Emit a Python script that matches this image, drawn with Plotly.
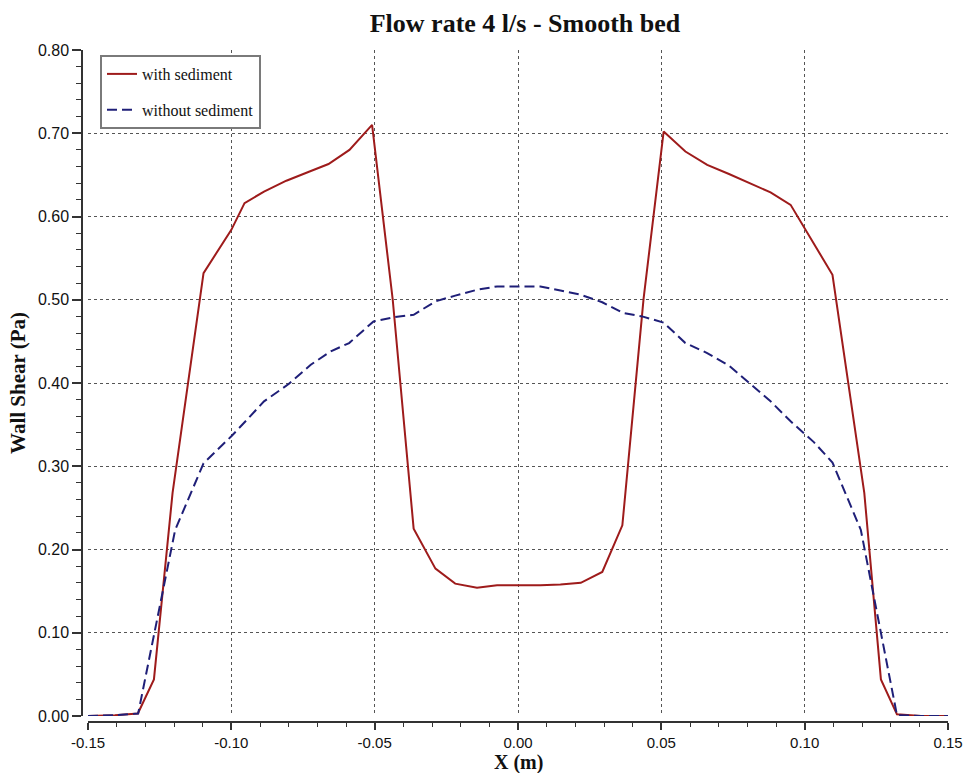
import plotly.graph_objects as go

# ---- data ----
x_with = [-0.150, -0.1406, -0.1326, -0.1270, -0.1205, -0.1097, -0.1000, -0.0954,
          -0.0886, -0.0808, -0.0727, -0.0661, -0.0588, -0.0509, -0.0437, -0.0364,
          -0.0288, -0.0219, -0.0143, -0.0073, 0.0, 0.0078, 0.0148, 0.0219, 0.0294,
          0.0364, 0.0438, 0.0508, 0.0584, 0.0660, 0.0736, 0.0811, 0.0881, 0.0951,
          0.1027, 0.1097, 0.1208, 0.1266, 0.1322, 0.1406, 0.150]
y_with = [0.0, 0.001, 0.003, 0.044, 0.268, 0.532, 0.584, 0.616,
          0.630, 0.643, 0.654, 0.663, 0.680, 0.710, 0.500, 0.225,
          0.177, 0.159, 0.154, 0.157, 0.157, 0.157, 0.158, 0.160, 0.173,
          0.229, 0.501, 0.702, 0.678, 0.662, 0.651, 0.640, 0.629, 0.614,
          0.570, 0.530, 0.268, 0.044, 0.002, 0.0, 0.0]

x_without = [-0.150, -0.1406, -0.1325, -0.1196, -0.1097, -0.1000, -0.0945, -0.0886,
             -0.0799, -0.0723, -0.0653, -0.0589, -0.0504, -0.0434, -0.0364, -0.0288,
             -0.0219, -0.0143, -0.0073, 0.0, 0.0078, 0.0148, 0.0219, 0.0294, 0.0367,
             0.0433, 0.0508, 0.0584, 0.0660, 0.0736, 0.0811, 0.0881, 0.0951, 0.1032,
             0.1097, 0.1196, 0.1322, 0.1406, 0.150]
y_without = [0.0, 0.001, 0.003, 0.2235, 0.3035, 0.336, 0.356, 0.378,
             0.399, 0.422, 0.438, 0.448, 0.474, 0.479, 0.482, 0.498,
             0.505, 0.512, 0.516, 0.516, 0.516, 0.511, 0.506, 0.497, 0.484,
             0.480, 0.4725, 0.448, 0.436, 0.421, 0.399, 0.378, 0.354, 0.329,
             0.3045, 0.2235, 0.001, 0.0, 0.0]

x_tick_vals = [-0.15, -0.10, -0.05, 0.0, 0.05, 0.10, 0.15]
x_tick_text = ["-0.15", "-0.10", "-0.05", "0.00", "0.05", "0.10", "0.15"]

series_names = ["with sediment", "without sediment"]
title_text = "Flow rate 4 l/s - Smooth bed"
x_title = "X (m)"
y_title = "Wall Shear (Pa)"

RED = "#9e1b1b"
BLUE = "#1f1f78"
GRID = "#555555"
AX = "#333333"

fig = go.Figure()
fig.add_trace(go.Scatter(x=x_with, y=y_with, mode="lines", name=series_names[0],
                         legendgroup="a",
                         line=dict(color=RED, width=2)))
fig.add_trace(go.Scatter(x=x_without, y=y_without, mode="lines", name=series_names[1],
                         legendgroup="b",
                         line=dict(color=BLUE, width=2, dash="10px,5px")))

W, H = 965, 773
ml, mr, mt, mb = 82, 17, 50, 51
pw, ph = W - ml - mr, H - mt - mb

fig.update_layout(
    width=W, height=H,
    margin=dict(l=ml, r=mr, t=mt, b=mb, autoexpand=False),
    paper_bgcolor="white", plot_bgcolor="white",
    title=dict(text="<b>" + title_text + "</b>", x=525 / W, xref="container",
               xanchor="center", y=1 - 23 / H, yref="container", yanchor="middle",
               font=dict(family="Liberation Serif", size=26, color="#111111")),
    showlegend=True,
    legend=dict(x=(100 - ml) / pw, y=1 - (55 - mt) / ph, xanchor="left", yanchor="top",
                bgcolor="white", bordercolor="#7a7a7a", borderwidth=2,
                font=dict(family="Liberation Serif", size=16, color="#111111"),
                tracegroupgap=12, traceorder="grouped"),
    xaxis=dict(
        range=[-0.15, 0.15], domain=[6 / pw, 1], anchor="free", position=0,
        tickmode="array", tickvals=x_tick_vals, ticktext=x_tick_text,
        showgrid=True, gridcolor=GRID, griddash="dot", gridwidth=1,
        zeroline=False, showline=True, linecolor=AX, linewidth=1.5,
        ticks="outside", ticklen=7, tickwidth=1.5, tickcolor=AX,
        minor=dict(dtick=0.01, tick0=0, ticks="outside", ticklen=4, tickwidth=1.2,
                   tickcolor=AX, showgrid=False),
        tickfont=dict(family="Liberation Sans", size=15, color="#111111"),
        automargin=False,
    ),
    yaxis=dict(
        range=[0, 0.8], domain=[6 / ph, 1], anchor="free", position=0,
        dtick=0.1, tick0=0, tickformat=".2f",
        showgrid=True, gridcolor=GRID, griddash="dot", gridwidth=1,
        zeroline=False, showline=True, linecolor=AX, linewidth=1.5,
        ticks="outside", ticklen=9, tickwidth=1.5, tickcolor=AX,
        minor=dict(dtick=0.02, ticks="outside", ticklen=5, tickwidth=1.2,
                   tickcolor=AX, showgrid=False),
        tickfont=dict(family="Liberation Sans", size=16, color="#111111"),
        title=dict(text="<b>" + y_title + "</b>", standoff=6,
                   font=dict(family="Liberation Serif", size=21, color="#111111")),
        automargin=False,
    ),
    annotations=[dict(text="<b>" + x_title + "</b>", xref="paper", yref="paper",
                      x=(518 - ml) / pw, y=-(762 - (H - mb)) / ph,
                      xanchor="center", yanchor="middle", showarrow=False,
                      font=dict(family="Liberation Serif", size=20, color="#111111"))],
)

fig.write_html("out.html")
